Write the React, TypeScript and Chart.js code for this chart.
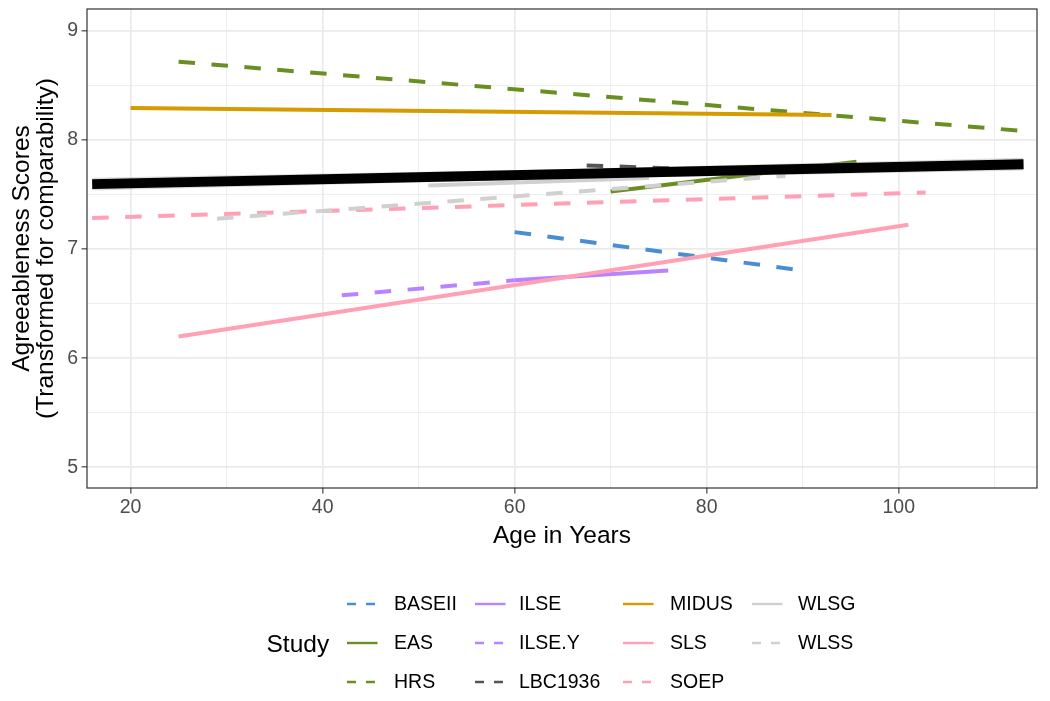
import React, { useEffect, useRef } from 'react';
import { Chart, registerables } from 'chart.js';

Chart.register(...registerables);

// ---- Data ----
const studies = ['BASEII', 'EAS', 'HRS', 'ILSE', 'ILSE.Y', 'LBC1936', 'MIDUS', 'SLS', 'SOEP', 'WLSG', 'WLSS'];
const ageStart = [60, 70, 25, 60, 42, 67.5, 20, 25, 16, 51, 29];
const ageEnd = [89, 95.6, 113, 76, 60, 78, 93, 101, 102.8, 74, 88.2];
const scoreStart = [7.155, 7.527, 8.717, 6.713, 6.576, 7.766, 8.293, 6.198, 7.285, 7.582, 7.277];
const scoreEnd = [6.815, 7.8, 8.082, 6.804, 6.713, 7.735, 8.229, 7.222, 7.518, 7.652, 7.67];

const overallAge = [16, 64.5, 113];
const overallScore = [7.595, 7.6865, 7.778];
const overallUpper = [7.653, 7.731, 7.836];
const overallLower = [7.537, 7.642, 7.72];

const xTickValues = [20, 30, 40, 50, 60, 70, 80, 90, 100, 110];
const xTickLabels = [20, 40, 60, 80, 100];
const yTickValues = [5, 5.5, 6, 6.5, 7, 7.5, 8, 8.5, 9];
const yTickLabels = [5, 6, 7, 8, 9];

// ---- Styles ----
const studyColors = ['#4A8DD0', '#6B8E23', '#6B8E23', '#B983FF', '#B983FF', '#555555', '#D59B00', '#FFA0B4', '#FFA0B4', '#D0D0D0', '#D0D0D0'];
const studyDashed = [true, false, true, false, true, true, false, false, true, false, true];

const FONT = '"Liberation Sans", Arial, sans-serif';

const panelBorder = {
  id: 'panelBorder',
  afterDraw(chart: any) {
    const { ctx, chartArea } = chart;
    const { left, top, right, bottom } = chartArea;
    ctx.save();
    ctx.strokeStyle = '#333333';
    ctx.lineWidth = 1.2;
    ctx.strokeRect(left, top, right - left, bottom - top);
    ctx.restore();
  },
};

function buildConfig(): any {
  const datasets: any[] = [];
  const total = studies.length + 3;
  studies.forEach((name, i) => {
    datasets.push({
      label: name,
      data: [
        { x: ageStart[i], y: scoreStart[i] },
        { x: ageEnd[i], y: scoreEnd[i] },
      ],
      borderColor: studyColors[i],
      borderWidth: 4,
      borderDash: studyDashed[i] ? [16.5, 16.5] : [],
      borderCapStyle: 'butt',
      pointRadius: 0,
      fill: false,
      tension: 0,
      order: total - i,
    });
  });
  const ribbonUpperIndex = datasets.length;
  datasets.push({
    label: 'ribbonUpper',
    data: overallAge.map((a, i) => ({ x: a, y: overallUpper[i] })),
    borderWidth: 0,
    borderColor: 'rgba(0,0,0,0)',
    backgroundColor: 'rgba(153,153,153,0.35)',
    pointRadius: 0,
    fill: ribbonUpperIndex + 1,
    order: 3,
  });
  datasets.push({
    label: 'ribbonLower',
    data: overallAge.map((a, i) => ({ x: a, y: overallLower[i] })),
    borderWidth: 0,
    borderColor: 'rgba(0,0,0,0)',
    pointRadius: 0,
    fill: false,
    order: 2,
  });
  datasets.push({
    label: 'Overall',
    data: overallAge.map((a, i) => ({ x: a, y: overallScore[i] })),
    borderColor: '#000000',
    borderWidth: 10,
    borderCapStyle: 'butt',
    pointRadius: 0,
    fill: false,
    order: 1,
  });

  const tickFont = { family: FONT, size: 19.5 };
  const titleFont = { family: FONT, size: 24.5 };

  return {
    type: 'line',
    data: { datasets },
    plugins: [panelBorder],
    options: {
      responsive: false,
      maintainAspectRatio: false,
      animation: false,
      devicePixelRatio: 1,
      layout: { padding: { left: 0, top: 9, right: 13, bottom: 150 } },
      plugins: {
        legend: { display: false },
        tooltip: { enabled: false },
      },
      scales: {
        x: {
          type: 'linear',
          min: 15.46,
          max: 114.4,
          afterBuildTicks: (scale: any) => {
            scale.ticks = xTickValues.map((v) => ({ value: v }));
          },
          afterFit: (scale: any) => {
            scale.height = 63;
            scale.paddingLeft = 0;
            scale.paddingRight = 0;
          },
          border: { display: false },
          grid: {
            color: '#EBEBEB',
            lineWidth: (ctx: any) => (ctx.tick && xTickLabels.includes(ctx.tick.value) ? 1.7 : 0.85),
            tickColor: (ctx: any) => (ctx.tick && xTickLabels.includes(ctx.tick.value) ? '#333333' : 'rgba(0,0,0,0)'),
            tickLength: 5.5,
            tickWidth: 1.1,
            drawTicks: true,
          },
          ticks: {
            autoSkip: false,
            maxRotation: 0,
            minRotation: 0,
            padding: 2.5,
            color: '#4D4D4D',
            font: tickFont,
            callback: (v: any) => (xTickLabels.includes(Number(v)) ? String(v) : ''),
          },
          title: {
            display: true,
            text: 'Age in Years',
            color: '#000000',
            font: { ...titleFont, lineHeight: 1.2 },
            padding: { top: 0, bottom: 0 },
          },
        },
        y: {
          type: 'linear',
          min: 4.81,
          max: 9.2,
          afterBuildTicks: (scale: any) => {
            scale.ticks = yTickValues.map((v) => ({ value: v }));
          },
          afterFit: (scale: any) => {
            scale.width = 87;
            scale.paddingTop = 0;
            scale.paddingBottom = 0;
          },
          border: { display: false },
          grid: {
            color: '#EBEBEB',
            lineWidth: (ctx: any) => (ctx.tick && yTickLabels.includes(ctx.tick.value) ? 1.7 : 0.85),
            tickColor: (ctx: any) => (ctx.tick && yTickLabels.includes(ctx.tick.value) ? '#333333' : 'rgba(0,0,0,0)'),
            tickLength: 5.5,
            tickWidth: 1.1,
            drawTicks: true,
          },
          ticks: {
            autoSkip: false,
            padding: 3.5,
            color: '#4D4D4D',
            font: tickFont,
            callback: (v: any) => (yTickLabels.includes(Number(v)) ? String(v) : ''),
          },
          title: {
            display: true,
            text: ['Agreeableness Scores', '(Transformed for comparability)'],
            color: '#000000',
            font: { ...titleFont, lineHeight: 1.0 },
            padding: { top: 9.5, bottom: 0 },
          },
        },
      },
    },
  };
}

const keyLeft = [347, 475, 623, 752];
const labelLeft = [394, 519, 670, 798];
const rowCenter = [604, 643.3, 682];
const rowBaseline = [611, 650, 689];

function LegendKey({ color, dashed }: { color: string; dashed: boolean }) {
  return (
    <svg width={31} height={10} style={{ display: 'block' }}>
      <line
        x1={0}
        y1={5}
        x2={30.5}
        y2={5}
        stroke={color}
        strokeWidth={2.4}
        strokeDasharray={dashed ? '9 10' : undefined}
      />
    </svg>
  );
}

export default function App() {
  const ref = useRef<HTMLCanvasElement>(null);

  useEffect(() => {
    if (!ref.current) return;
    const chart = new Chart(ref.current, buildConfig());
    return () => chart.destroy();
  }, []);

  return (
    <div
      style={{
        position: 'fixed',
        left: 0,
        top: 0,
        width: 1050,
        height: 701,
        background: '#ffffff',
        fontFamily: FONT,
        overflow: 'hidden',
      }}
    >
      <canvas
        ref={ref}
        width={1050}
        height={701}
        style={{ position: 'absolute', left: 0, top: 0, width: 1050, height: 701 }}
      />
      <div
        style={{
          position: 'absolute',
          left: 266.5,
          top: 653 - 24.5 * 0.8465,
          fontSize: 24.5,
          lineHeight: 1,
          color: '#000',
          whiteSpace: 'nowrap',
        }}
      >
        Study
      </div>
      {studies.map((name, i) => {
        const col = Math.floor(i / 3);
        const row = i % 3;
        return (
          <React.Fragment key={name}>
            <div style={{ position: 'absolute', left: keyLeft[col], top: rowCenter[row] - 5 }}>
              <LegendKey color={studyColors[i]} dashed={studyDashed[i]} />
            </div>
            <div
              style={{
                position: 'absolute',
                left: labelLeft[col],
                top: rowBaseline[row] - 19.5 * 0.8465,
                fontSize: 19.5,
                lineHeight: 1,
                color: '#000',
                whiteSpace: 'nowrap',
              }}
            >
              {name}
            </div>
          </React.Fragment>
        );
      })}
    </div>
  );
}
